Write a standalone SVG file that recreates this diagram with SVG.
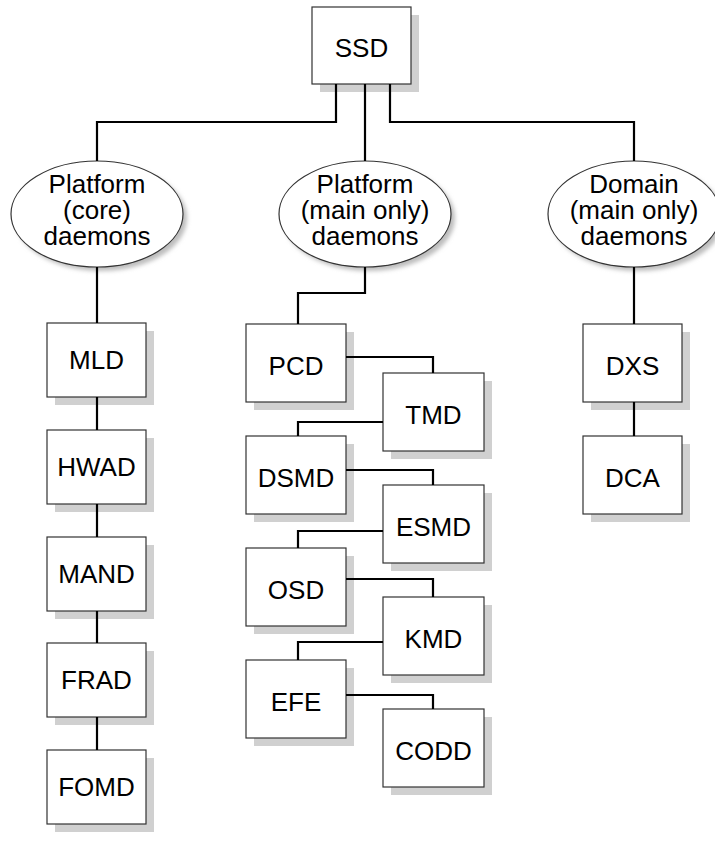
<svg xmlns="http://www.w3.org/2000/svg" width="715" height="855" viewBox="0 0 715 855">
<defs>
<filter id="blur" x="-20%" y="-20%" width="140%" height="140%"><feGaussianBlur stdDeviation="2"/></filter>
</defs>
<style>
.sh{fill:#d0d0d0;stroke:none}
.bx{fill:#fff;stroke:#333;stroke-width:1.2}
.el{fill:#fff;stroke:#333;stroke-width:1.2}
.esh{fill:#bdbdbd;stroke:none;filter:url(#blur)}
text{font-family:"Liberation Sans",Arial,sans-serif;font-size:26px;fill:#000;text-anchor:middle}
.cn{fill:none;stroke:#000;stroke-width:2.2}
</style>
<rect width="715" height="855" fill="#fff"/>

<g id="SSD"><rect class="sh" x="320" y="15" width="99" height="77"/><rect class="bx" x="312" y="7" width="99" height="77"/><text x="361.5" y="57">SSD</text></g>

<g id="PlatformCore"><ellipse class="esh" cx="101" cy="218" rx="86" ry="53"/><ellipse class="el" cx="97" cy="214" rx="86" ry="53"/><text x="97" y="193">Platform</text><text x="97" y="219">(core)</text><text x="97" y="245">daemons</text></g>
<g id="PlatformMain"><ellipse class="esh" cx="369" cy="218" rx="86" ry="53"/><ellipse class="el" cx="365" cy="214" rx="86" ry="53"/><text x="365" y="193">Platform</text><text x="365" y="219">(main only)</text><text x="365" y="245">daemons</text></g>
<g id="DomainMain"><ellipse class="esh" cx="638" cy="218" rx="86" ry="53"/><ellipse class="el" cx="634" cy="214" rx="86" ry="53"/><text x="634" y="193">Domain</text><text x="634" y="219">(main only)</text><text x="634" y="245">daemons</text></g>

<g id="MLD"><rect class="sh" x="55" y="331" width="99" height="74"/><rect class="bx" x="47" y="323" width="99" height="74"/><text x="96.5" y="369">MLD</text></g>
<g id="HWAD"><rect class="sh" x="55" y="438" width="99" height="74"/><rect class="bx" x="47" y="430" width="99" height="74"/><text x="96.5" y="476">HWAD</text></g>
<g id="MAND"><rect class="sh" x="55" y="545" width="99" height="74"/><rect class="bx" x="47" y="537" width="99" height="74"/><text x="96.5" y="583">MAND</text></g>
<g id="FRAD"><rect class="sh" x="55" y="651" width="99" height="74"/><rect class="bx" x="47" y="643" width="99" height="74"/><text x="96.5" y="689">FRAD</text></g>
<g id="FOMD"><rect class="sh" x="55" y="758" width="99" height="74"/><rect class="bx" x="47" y="750" width="99" height="74"/><text x="96.5" y="796">FOMD</text></g>

<g id="PCD"><rect class="sh" x="254" y="332" width="100" height="78"/><rect class="bx" x="246" y="324" width="100" height="78"/><text x="296" y="375">PCD</text></g>
<g id="TMD"><rect class="sh" x="391" y="381" width="101" height="78"/><rect class="bx" x="383" y="373" width="101" height="78"/><text x="433.5" y="424">TMD</text></g>
<g id="DSMD"><rect class="sh" x="254" y="444" width="100" height="78"/><rect class="bx" x="246" y="436" width="100" height="78"/><text x="296" y="487">DSMD</text></g>
<g id="ESMD"><rect class="sh" x="391" y="493" width="101" height="78"/><rect class="bx" x="383" y="485" width="101" height="78"/><text x="433.5" y="536">ESMD</text></g>
<g id="OSD"><rect class="sh" x="254" y="556" width="100" height="78"/><rect class="bx" x="246" y="548" width="100" height="78"/><text x="296" y="599">OSD</text></g>
<g id="KMD"><rect class="sh" x="391" y="605" width="101" height="78"/><rect class="bx" x="383" y="597" width="101" height="78"/><text x="433.5" y="648">KMD</text></g>
<g id="EFE"><rect class="sh" x="254" y="668" width="100" height="78"/><rect class="bx" x="246" y="660" width="100" height="78"/><text x="296" y="711">EFE</text></g>
<g id="CODD"><rect class="sh" x="391" y="717" width="101" height="78"/><rect class="bx" x="383" y="709" width="101" height="78"/><text x="433.5" y="760">CODD</text></g>

<g id="DXS"><rect class="sh" x="591" y="332" width="99" height="78"/><rect class="bx" x="583" y="324" width="99" height="78"/><text x="632.5" y="375">DXS</text></g>
<g id="DCA"><rect class="sh" x="591" y="444" width="99" height="78"/><rect class="bx" x="583" y="436" width="99" height="78"/><text x="632.5" y="487">DCA</text></g>

<g id="connectors">
<path class="cn" d="M336 84V122H97V161"/>
<path class="cn" d="M365 84V161"/>
<path class="cn" d="M390 84V122H634V161"/>
<path class="cn" d="M97 267V323"/>
<path class="cn" d="M97 397V430"/>
<path class="cn" d="M97 504V537"/>
<path class="cn" d="M97 611V643"/>
<path class="cn" d="M97 717V750"/>
<path class="cn" d="M365 267V293H298V324"/>
<path class="cn" d="M346 357H433V373"/>
<path class="cn" d="M383 422H298V436"/>
<path class="cn" d="M346 470H433V485"/>
<path class="cn" d="M383 531H298V548"/>
<path class="cn" d="M346 579H433V597"/>
<path class="cn" d="M383 642H298V660"/>
<path class="cn" d="M346 695H433V709"/>
<path class="cn" d="M634 267V324"/>
<path class="cn" d="M634 402V436"/>
</g>
</svg>
